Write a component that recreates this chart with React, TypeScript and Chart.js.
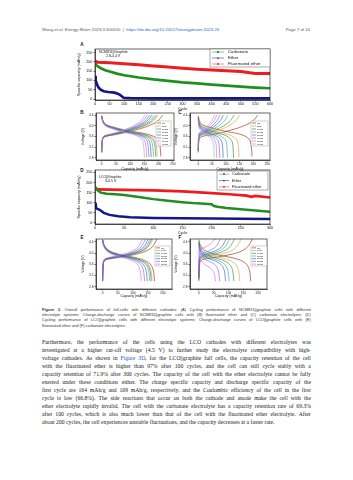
import React, { useEffect, useRef } from "react";
import { Chart, registerables } from "chart.js";
Chart.register(...registerables);

// ---------------- Panel A (NCM811||Graphite, cycling) ----------------
const aCarbCycle = [1, 5, 10, 20, 35, 50, 75, 100, 150, 200, 250, 300, 350, 400, 450, 500, 550, 600];
const aCarbCap = [190, 182, 175, 165, 155, 148, 137, 128, 116, 106, 98, 90, 84, 78, 72, 67, 62, 58];
const aEthCycle = [1, 2, 4, 8, 12, 20, 30, 45, 60, 70, 80, 88, 95, 100, 120, 200, 300, 400, 500, 600];
const aEthCap = [125, 100, 90, 75, 62, 50, 42, 38, 36, 33, 28, 20, 10, 6, 5, 4, 4, 4, 4, 4];
const aFluCycle = [1, 2, 10, 50, 100, 150, 200, 250, 300, 350, 400, 450, 500, 530, 550, 600];
const aFluCap = [210, 200, 198, 195, 190, 184, 178, 172, 166, 160, 156, 152, 148, 142, 138, 138];
const aXTicks = [0, 50, 100, 150, 200, 250, 300, 350, 400, 450, 500, 550, 600];
const aYTicks = [0, 50, 100, 150, 200, 250];

// ---------------- Panel D (LCO||Graphite, cycling) ----------------
const dCarbCycle = [1, 2, 5, 10, 20, 35, 50, 75, 100, 125, 150, 175, 200, 204, 210, 225, 250, 275, 300];
const dCarbCap = [175, 170, 160, 150, 145, 142, 138, 128, 118, 110, 103, 97, 93, 84, 80, 74, 68, 62, 56];
const dEthCycle = [1, 2, 4, 8, 15, 25, 40, 60, 100, 150, 200, 250, 300];
const dEthCap = [100, 75, 70, 65, 50, 40, 33, 28, 25, 23, 22, 21, 20];
const dFluCycle = [1, 2, 5, 25, 50, 100, 150, 200, 230, 260, 268, 275, 300];
const dFluCap = [178, 170, 166, 165, 164, 161, 156, 148, 142, 135, 129, 134, 126];
const dXTicks = [0, 50, 100, 150, 200, 250, 300];
const dYTicks = [0, 50, 100, 150, 200, 250];

const seriesNames = ["Carbonate", "Ether", "Fluorinated ether"];
const seriesColors = ["#1f8f1f", "#16168a", "#ee1c1c"];

// ---------------- Voltage profiles ----------------
const ncmChgFrac = [0, 0.005, 0.02, 0.06, 0.2, 0.4, 0.55, 0.7, 0.82, 0.9, 0.96, 1];
const ncmChgV = [3.0, 3.3, 3.52, 3.6, 3.66, 3.75, 3.84, 3.94, 4.05, 4.15, 4.27, 4.4];
const ncmDisFrac = [0, 0.02, 0.07, 0.2, 0.4, 0.6, 0.75, 0.85, 0.92, 0.96, 0.985, 1];
const ncmDisV = [4.38, 4.2, 4.05, 3.95, 3.84, 3.76, 3.7, 3.63, 3.55, 3.45, 3.25, 2.85];
const lcoChgFrac = [0, 0.005, 0.02, 0.06, 0.15, 0.35, 0.55, 0.7, 0.8, 0.88, 0.94, 1];
const lcoChgV = [3.0, 3.4, 3.68, 3.76, 3.8, 3.86, 3.93, 4.0, 4.07, 4.16, 4.28, 4.5];
const lcoDisFrac = [0, 0.02, 0.08, 0.2, 0.4, 0.6, 0.75, 0.85, 0.92, 0.96, 0.985, 1];
const lcoDisV = [4.48, 4.32, 4.15, 4.02, 3.92, 3.85, 3.78, 3.7, 3.6, 3.48, 3.3, 3.0];

// Panel B: NCM811 fluorinated ether
const bLabels = ["1st", "50th", "100th", "200th", "300th", "400th", "500th", "600th"];
const bChg = [214, 197, 192, 184, 176, 168, 160, 152];
const bDis = [208, 195, 190, 182, 174, 166, 158, 150];
const bShift = [0, 0, 0.01, 0.01, 0.02, 0.02, 0.03, 0.03];
// Panel C: NCM811 carbonate
const cLabels = ["1st", "50th", "100th", "200th", "300th", "400th", "500th", "600th"];
const cChg = [215, 150, 130, 108, 92, 80, 69, 60];
const cDis = [195, 148, 128, 106, 90, 78, 67, 58];
const cShift = [0, 0.03, 0.05, 0.07, 0.09, 0.11, 0.13, 0.15];
// Panel E: LCO fluorinated ether
const eLabels = ["1st", "50th", "100th", "150th", "200th", "250th", "300th"];
const eChg = [180, 167, 163, 158, 151, 142, 132];
const eDis = [172, 164, 161, 156, 148, 139, 128];
const eShift = [0, 0, 0.01, 0.01, 0.02, 0.03, 0.04];
// Panel F: LCO carbonate
const fLabels = ["1st", "50th", "100th", "150th", "200th", "250th", "300th"];
const fChg = [180, 142, 120, 104, 93, 74, 60];
const fDis = [175, 138, 118, 102, 90, 70, 57];
const fShift = [0, 0.04, 0.07, 0.1, 0.13, 0.18, 0.35];

const vXTicksBC = [0, 50, 100, 150, 200, 250];
const vXTicksEF = [0, 50, 100, 150, 200];
const vYTicks = [2.8, 3.2, 3.6, 4.0, 4.4];
const cycleColors = ["#8c1c13", "#c9a227", "#2a7d2e", "#2aa198", "#1e4fd8", "#7e57c2", "#d05ce3", "#9aa0b8"];

// ---------------- Text ----------------
const captionLines = [
  "Figure 3. Overall performance of full-cells with different cathodes: (A) Cycling performance of NCM811||graphite cells with different",
  "electrolyte systems; Charge-discharge curves of NCM811||graphite cells with (B) fluorinated ether and (C) carbonate electrolytes; (D)",
  "Cycling performance of LCO||graphite cells with different electrolyte systems; Charge-discharge curves of LCO||graphite cells with (E)",
  "fluorinated ether and (F) carbonate electrolytes.",
];
const paragraphLines = [
  "Furthermore, the performance of the cells using the LCO cathodes with different electrolytes was",
  "investigated at a higher cut-off voltage (4.5 V) to further study the electrolyte compatibility with high-",
  "voltage cathodes. As shown in Figure 3D, for the LCO||graphite full cells, the capacity retention of the cell",
  "with the fluorinated ether is higher than 97% after 100 cycles, and the cell can still cycle stably with a",
  "capacity retention of 71.9% after 300 cycles. The capacity of the cell with the ether electrolyte cannot be fully",
  "exerted under these conditions either. The charge specific capacity and discharge specific capacity of the",
  "first cycle are 164 mAh/g and 109 mAh/g, respectively, and the Coulombic efficiency of the cell in the first",
  "cycle is low (66.8%). The side reactions that occur on both the cathode and anode make the cell with the",
  "ether electrolyte rapidly invalid. The cell with the carbonate electrolyte has a capacity retention rate of 69.3%",
  "after 100 cycles, which is also much lower than that of the cell with the fluorinated ether electrolyte. After",
  "about 200 cycles, the cell experiences unstable fluctuations, and the capacity decreases at a faster rate.",
];

// ---------------- helpers ----------------
const SANS = '"Liberation Sans", Arial, sans-serif';
const SERIF = '"Liberation Serif", "Times New Roman", serif';

type Box = { l: number; t: number; w: number; h: number };
type Plot = { l: number; t: number; r: number; b: number };

function axisOpts(kind: "x" | "y", o: any, size: number, box: Box, plot: Plot) {
  const isX = kind === "x";
  return {
    type: "linear",
    min: o.min,
    max: o.max,
    afterFit: (s: any) => {
      if (isX) s.height = box.t + box.h - plot.b;
      else s.width = plot.l - box.l;
    },
    afterBuildTicks: (s: any) => {
      s.ticks = o.ticks.map((v: number) => ({ value: v }));
    },
    ticks: {
      font: { family: SANS, size: o.tickSize },
      color: "#111",
      padding: isX ? 0.6 : 1,
      maxRotation: 0,
      autoSkip: false,
      callback: o.fmt,
    },
    grid: { drawOnChartArea: false, drawTicks: true, tickLength: 1.6, lineWidth: 0.5, color: "#000" },
    border: { display: true, color: "#000", width: 0.6 },
    title: { display: true, text: o.title, font: { family: SANS, size }, color: "#111", padding: 0 },
  };
}

function baseOptions(box: Box, plot: Plot, x: any, y: any, titleSize: number) {
  return {
    responsive: false,
    animation: false,
    devicePixelRatio: 1,
    layout: { padding: { left: 0, top: plot.t - box.t, right: box.l + box.w - plot.r, bottom: 0 } },
    plugins: { legend: { display: false }, tooltip: { enabled: false }, title: { display: false } },
    scales: { x: axisOpts("x", x, titleSize, box, plot), y: axisOpts("y", y, titleSize, box, plot) },
  };
}

const framePlugin = {
  id: "frame",
  afterDatasetsDraw(chart: any) {
    const { ctx, chartArea: a } = chart;
    ctx.save();
    ctx.strokeStyle = "#000";
    ctx.lineWidth = 0.6;
    ctx.strokeRect(a.left, a.top, a.right - a.left, a.bottom - a.top);
    ctx.restore();
  },
};

function textPlugin(box: Box, items: { text: string; x: number; y: number; size: number }[]) {
  return {
    id: "annot",
    afterDraw(chart: any) {
      const ctx = chart.ctx;
      ctx.save();
      ctx.fillStyle = "#111";
      ctx.textAlign = "left";
      ctx.textBaseline = "middle";
      items.forEach((it) => {
        ctx.font = `${it.size}px ${SANS}`;
        ctx.fillText(it.text, it.x - box.l, it.y - box.t);
      });
      ctx.restore();
    },
  };
}

function drawMarker(ctx: any, kind: number, x: number, y: number, r: number) {
  ctx.beginPath();
  if (kind === 0) ctx.rect(x - r, y - r, 2 * r, 2 * r);
  else if (kind === 1) {
    ctx.moveTo(x, y - r * 1.2);
    ctx.lineTo(x + r * 1.1, y + r * 0.8);
    ctx.lineTo(x - r * 1.1, y + r * 0.8);
    ctx.closePath();
  } else ctx.arc(x, y, r, 0, Math.PI * 2);
  ctx.fill();
}

function cycleLegend(box: Box, lg: any) {
  return {
    id: "cycLegend",
    afterDraw(chart: any) {
      const ctx = chart.ctx;
      const x1 = lg.x1 - box.l, y1 = lg.y1 - box.t, x2 = lg.x2 - box.l, y2 = lg.y2 - box.t;
      ctx.save();
      ctx.fillStyle = "#fff";
      ctx.fillRect(x1, y1, x2 - x1, y2 - y1);
      ctx.strokeStyle = "#333";
      ctx.lineWidth = 0.4;
      ctx.strokeRect(x1, y1, x2 - x1, y2 - y1);
      const rh = (y2 - y1) / 3;
      seriesNames.forEach((name, i) => {
        const cy = y1 + rh * (i + 0.5);
        ctx.strokeStyle = seriesColors[i];
        ctx.fillStyle = seriesColors[i];
        ctx.lineWidth = 0.5;
        ctx.beginPath();
        ctx.moveTo(x1 + lg.lx1, cy);
        ctx.lineTo(x1 + lg.lx2, cy);
        ctx.stroke();
        drawMarker(ctx, i, x1 + (lg.lx1 + lg.lx2) / 2, cy, 0.9);
        ctx.fillStyle = "#111";
        ctx.font = `${lg.size}px ${SANS}`;
        ctx.textAlign = "left";
        ctx.textBaseline = "middle";
        ctx.fillText(name, x1 + lg.tx, cy);
      });
      ctx.restore();
    },
  };
}

function lineLegend(box: Box, lg: any, labels: string[]) {
  return {
    id: "lineLegend",
    afterDraw(chart: any) {
      const ctx = chart.ctx;
      const x1 = lg.x1 - box.l, y1 = lg.y1 - box.t, x2 = lg.x2 - box.l, y2 = lg.y2 - box.t;
      ctx.save();
      ctx.fillStyle = "#fff";
      ctx.fillRect(x1, y1, x2 - x1, y2 - y1);
      ctx.strokeStyle = "#666";
      ctx.lineWidth = 0.3;
      ctx.strokeRect(x1, y1, x2 - x1, y2 - y1);
      const rh = (y2 - y1 - 1) / labels.length;
      labels.forEach((lab, i) => {
        const cy = y1 + 0.5 + rh * (i + 0.5);
        ctx.strokeStyle = cycleColors[i];
        ctx.lineWidth = 0.6;
        ctx.beginPath();
        ctx.moveTo(x1 + 1, cy);
        ctx.lineTo(x1 + 5, cy);
        ctx.stroke();
        ctx.fillStyle = "#222";
        ctx.font = `${lg.size}px ${SANS}`;
        ctx.textAlign = "left";
        ctx.textBaseline = "middle";
        ctx.fillText(lab, x1 + 6, cy);
      });
      ctx.restore();
    },
  };
}

function pts(xs: number[], ys: number[]) {
  return xs.map((x, i) => ({ x, y: ys[i] }));
}

function cycleDataset(xs: number[], ys: number[], color: string, width: number) {
  return { data: pts(xs, ys), showLine: true, borderColor: color, backgroundColor: color, borderWidth: width, pointRadius: 0, tension: 0 };
}

function voltageDatasets(chg: number[], dis: number[], shift: number[], cf: number[], cv: number[], df: number[], dv: number[], vmin: number, vmax: number) {
  const sets: any[] = [];
  for (let i = chg.length - 1; i >= 0; i--) {
    const c = cf.map((f, k) => ({ x: f * chg[i], y: Math.min(vmax, cv[k] + shift[i]) }));
    const d = df.map((f, k) => ({ x: f * dis[i], y: Math.max(vmin, dv[k] - shift[i]) }));
    [c, d].forEach((data) =>
      sets.push({ data, showLine: true, borderColor: cycleColors[i], borderWidth: 0.6, pointRadius: 0, tension: 0.3 })
    );
  }
  return sets;
}

// ---------------- geometry ----------------
const A_BOX: Box = { l: 77, t: 44, w: 201, h: 67 };
const A_PLOT: Plot = { l: 95, t: 49, r: 270, b: 100 };
const D_BOX: Box = { l: 77, t: 165, w: 201, h: 70 };
const D_PLOT: Plot = { l: 95, t: 170, r: 270, b: 224 };
const B_BOX: Box = { l: 81, t: 109, w: 97, h: 62 };
const B_PLOT: Plot = { l: 96, t: 113, r: 174, b: 160 };
const C_BOX: Box = { l: 174, t: 109, w: 100, h: 62 };
const C_PLOT: Plot = { l: 190, t: 113, r: 270, b: 160 };
const E_BOX: Box = { l: 81, t: 235, w: 95, h: 63 };
const E_PLOT: Plot = { l: 96, t: 239, r: 172, b: 289 };
const F_BOX: Box = { l: 174, t: 235, w: 97, h: 63 };
const F_PLOT: Plot = { l: 190, t: 239, r: 267, b: 289 };

const intFmt = (v: any) => String(v);
const vFmt = (v: any) => Number(v).toFixed(1);

function buildCycle(box: Box, plot: Plot, which: "A" | "D") {
  const isA = which === "A";
  const x = { min: 0, max: isA ? 600 : 300, ticks: isA ? aXTicks : dXTicks, tickSize: 3.7, fmt: intFmt, title: "Cycle" };
  const y = { min: -5, max: isA ? 269 : 262, ticks: isA ? aYTicks : dYTicks, tickSize: 3.7, fmt: intFmt, title: "Specific capacity (mAh/g)" };
  const datasets = isA
    ? [
        cycleDataset(aCarbCycle, aCarbCap, seriesColors[0], 2.7),
        cycleDataset(aEthCycle, aEthCap, seriesColors[1], 2.7),
        cycleDataset(aFluCycle, aFluCap, seriesColors[2], 3.0),
      ]
    : [
        cycleDataset(dCarbCycle, dCarbCap, seriesColors[0], 2.5),
        cycleDataset(dEthCycle, dEthCap, seriesColors[1], 2.5),
        cycleDataset(dFluCycle, dFluCap, seriesColors[2], 2.7),
      ];
  const lg = isA
    ? { x1: 210, y1: 49, x2: 270, y2: 67, lx1: 2, lx2: 14, tx: 18, size: 4.3 }
    : { x1: 217, y1: 171, x2: 268, y2: 190, lx1: 2, lx2: 12, tx: 15, size: 3.9 };
  const annot = isA
    ? [
        { text: "NCM811||Graphite", x: 99, y: 52.5, size: 3.5 },
        { text: "2.8-4.4 V", x: 106, y: 56.5, size: 3.5 },
      ]
    : [
        { text: "LCO||Graphite", x: 99, y: 177, size: 3.5 },
        { text: "3-4.5 V", x: 105, y: 181, size: 3.5 },
      ];
  return {
    type: "scatter",
    data: { datasets },
    options: baseOptions(box, plot, x, y, 3.8),
    plugins: [framePlugin, cycleLegend(box, lg), textPlugin(box, annot)],
  };
}

function buildVoltage(box: Box, plot: Plot, which: "B" | "C" | "E" | "F") {
  const ncm = which === "B" || which === "C";
  const cfg: any = {
    B: { chg: bChg, dis: bDis, shift: bShift, labels: bLabels, xmin: -20, xmax: 254, lg: { x1: 156, y1: 121, x2: 171, y2: 146 } },
    C: { chg: cChg, dis: cDis, shift: cShift, labels: cLabels, xmin: -30, xmax: 260, lg: { x1: 251, y1: 121, x2: 268, y2: 146 } },
    E: { chg: eChg, dis: eDis, shift: eShift, labels: eLabels, xmin: -22, xmax: 230, lg: { x1: 155, y1: 246, x2: 170, y2: 266 } },
    F: { chg: fChg, dis: fDis, shift: fShift, labels: fLabels, xmin: -30, xmax: 230, lg: { x1: 251, y1: 246, x2: 267, y2: 266 } },
  }[which];
  const vmin = 2.72;
  const vmax = ncm ? 4.48 : 4.5;
  const datasets = ncm
    ? voltageDatasets(cfg.chg, cfg.dis, cfg.shift, ncmChgFrac, ncmChgV, ncmDisFrac, ncmDisV, 2.8, 4.4)
    : voltageDatasets(cfg.chg, cfg.dis, cfg.shift, lcoChgFrac, lcoChgV, lcoDisFrac, lcoDisV, 3.0, 4.5);
  const x = { min: cfg.xmin, max: cfg.xmax, ticks: ncm ? vXTicksBC : vXTicksEF, tickSize: 3.1, fmt: intFmt, title: "Capacity (mAh/g)" };
  const y = { min: vmin, max: vmax, ticks: vYTicks, tickSize: 3.1, fmt: vFmt, title: "Voltage (V)" };
  return {
    type: "scatter",
    data: { datasets },
    options: baseOptions(box, plot, x, y, 3.5),
    plugins: [framePlugin, lineLegend(box, { ...cfg.lg, size: 2.4 }, cfg.labels)],
  };
}

function ChartCanvas({ box, build }: { box: Box; build: () => any }) {
  const ref = useRef<HTMLCanvasElement | null>(null);
  useEffect(() => {
    const chart = new Chart(ref.current as HTMLCanvasElement, build());
    return () => chart.destroy();
  }, []);
  return (
    <div style={{ position: "absolute", left: box.l, top: box.t, width: box.w, height: box.h }}>
      <canvas ref={ref} width={box.w} height={box.h} style={{ width: box.w, height: box.h, display: "block" }} />
    </div>
  );
}

function Letter({ ch, x, y }: { ch: string; x: number; y: number }) {
  return (
    <div style={{ position: "absolute", left: x - 3, top: y - 3, width: 6, height: 6, lineHeight: "6px", textAlign: "center", fontFamily: SANS, fontWeight: "bold", fontSize: 4.6, color: "#111" }}>
      {ch}
    </div>
  );
}

function renderWord(w: string, i: number, kind: "cap" | "par") {
  if (kind === "cap" && i < 2 && (w === "Figure" || w === "3.")) return <b key={i}>{w}</b>;
  if (kind === "par" && w === "Figure") return <span key={i} style={{ color: "#1f5fbf" }}>{w}</span>;
  if (kind === "par" && w.startsWith("3D")) return (
    <span key={i}><span style={{ color: "#1f5fbf" }}>3D</span>{w.slice(2)}</span>
  );
  return <span key={i}>{w}</span>;
}

function TextLine({ text, top, lh, size, family, color, justify, kind, first }: any) {
  const words = text.split(" ");
  return (
    <div
      style={{
        position: "absolute", left: 42, top, width: 269, height: lh, lineHeight: lh + "px",
        fontFamily: family, fontSize: size, color, whiteSpace: "pre",
        display: "flex", justifyContent: justify ? "space-between" : "flex-start", gap: justify ? 0 : size * 0.25,
      }}
    >
      {words.map((w: string, i: number) => (first || kind === "par" ? renderWord(w, i, kind) : <span key={i}>{w}</span>))}
    </div>
  );
}

export default function App() {
  return (
    <div style={{ position: "fixed", left: 0, top: 0, width: 353, height: 480, background: "#fff", overflow: "hidden" }}>
      <div style={{ position: "absolute", left: 42, top: 26.5, fontFamily: SANS, fontSize: 4.3, lineHeight: "5px", color: "#555", whiteSpace: "pre" }}>
        Wang <i>et al</i>. <i>Energy Mater</i> 2023;3:300010  |  <span style={{ color: "#1f5fbf" }}>https://dx.doi.org/10.20517/energymater.2023.26</span>
      </div>
      <div style={{ position: "absolute", right: 43, top: 26.5, fontFamily: SANS, fontSize: 4.3, lineHeight: "5px", color: "#555", whiteSpace: "pre" }}>
        Page 7 of 14
      </div>

      <Letter ch="A" x={82} y={45} />
      <Letter ch="B" x={82} y={113} />
      <Letter ch="C" x={180} y={113} />
      <Letter ch="D" x={82} y={171} />
      <Letter ch="E" x={82} y={238} />
      <Letter ch="F" x={180} y={238} />

      <ChartCanvas box={A_BOX} build={() => buildCycle(A_BOX, A_PLOT, "A")} />
      <ChartCanvas box={B_BOX} build={() => buildVoltage(B_BOX, B_PLOT, "B")} />
      <ChartCanvas box={C_BOX} build={() => buildVoltage(C_BOX, C_PLOT, "C")} />
      <ChartCanvas box={D_BOX} build={() => buildCycle(D_BOX, D_PLOT, "D")} />
      <ChartCanvas box={E_BOX} build={() => buildVoltage(E_BOX, E_PLOT, "E")} />
      <ChartCanvas box={F_BOX} build={() => buildVoltage(F_BOX, F_PLOT, "F")} />

      {captionLines.map((t, i) => (
        <TextLine key={"c" + i} text={t} top={309 + i * 5.4 - 2.5} lh={5} size={4.0} family={SANS} color="#333"
          justify={i < captionLines.length - 1} kind="cap" first={i === 0} />
      ))}
      {paragraphLines.map((t, i) => (
        <TextLine key={"p" + i} text={t} top={342 + i * 8 - 4} lh={8} size={5.7} family={SERIF} color="#1a1a1a"
          justify={i < paragraphLines.length - 1} kind="par" first={false} />
      ))}
    </div>
  );
}
